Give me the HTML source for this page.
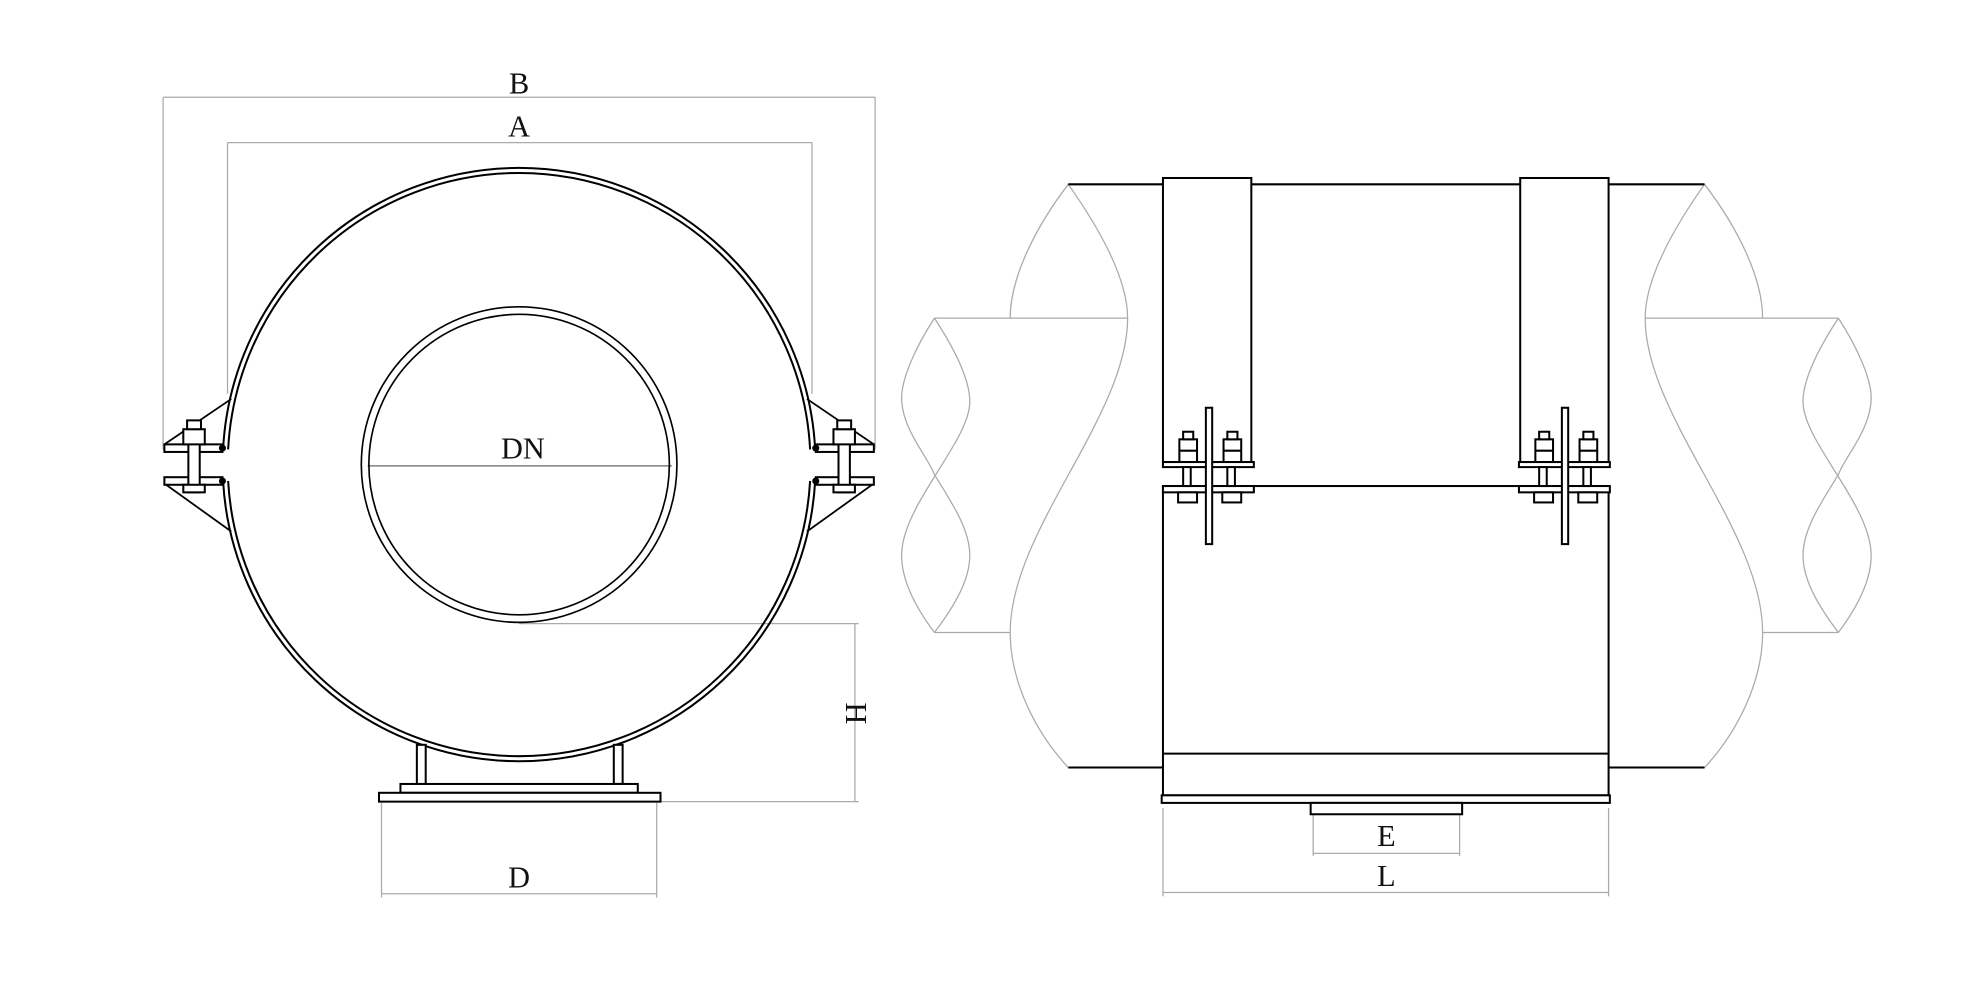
<!DOCTYPE html>
<html><head><meta charset="utf-8"><style>html,body{margin:0;padding:0;background:#fff}svg{display:block}text{font-family:"Liberation Serif",serif;font-size:24px;fill:#111}</style></head>
<body>
<svg width="1980" height="991" viewBox="0 0 1568 785" xmlns="http://www.w3.org/2000/svg">
<defs>
<g id="lflange" fill="#fff" stroke="#000" stroke-width="1.6">
  <path d="M183,316 L130,352 M130,383 L183,421" fill="none" stroke-width="1.4"/>
  <rect x="130" y="352" width="46" height="6"/>
  <rect x="130" y="378" width="46" height="6"/>
  <rect x="149" y="340" width="9" height="50"/>
  <rect x="145" y="340" width="17" height="12"/>
  <rect x="148" y="333" width="11" height="7"/>
  <rect x="145" y="384" width="17" height="6"/>
  <circle cx="176" cy="355" r="2" fill="#000"/>
  <circle cx="176" cy="381" r="2" fill="#000"/>
</g>
<g id="bolts" fill="#fff" stroke="#000" stroke-width="1.6">
  <rect x="934" y="348" width="14" height="18"/><line x1="934" y1="357" x2="948" y2="357"/>
  <rect x="937" y="342" width="8" height="6"/>
  <rect x="969" y="348" width="14" height="18"/><line x1="969" y1="357" x2="983" y2="357"/>
  <rect x="972" y="342" width="8" height="6"/>
  <rect x="921" y="366" width="72" height="4"/>
  <rect x="921" y="385" width="72" height="5"/>
  <rect x="937" y="370" width="6" height="15"/><rect x="972" y="370" width="6" height="15"/>
  <rect x="933" y="390" width="15" height="8"/><rect x="968" y="390" width="15" height="8"/>
  <rect x="955" y="323" width="5" height="108"/>
</g>
<g id="pipe" fill="none" stroke="#aaa" stroke-width="1">
  <path d="M846,146 C870,180 893,220 893,252 C893,330 800,420 800,501 C800,540 820,580 846,608"/>
  <path d="M846,146 C820,180 800,220 800,252"/>
  <path d="M740,252 C755,275 768,300 768,318 C768,350 714,400 714,440 C714,462 728,485 740,501"/>
  <path d="M740,252 C725,275 714,300 714,315 C714,340 735,362 740,376 C755,400 768,420 768,440 C768,462 752,485 740,501"/>
  <line x1="740" y1="252" x2="893" y2="252"/>
  <line x1="740" y1="501" x2="800" y2="501"/>
</g>
</defs>
<g fill="none" stroke="#aaa" stroke-width="1">
  <line x1="129" y1="77" x2="693" y2="77"/><line x1="180" y1="113" x2="643" y2="113"/>
  <line x1="129" y1="77" x2="129" y2="356"/><line x1="693" y1="77" x2="693" y2="356"/>
  <line x1="180" y1="113" x2="180" y2="312"/><line x1="643" y1="113" x2="643" y2="312"/>
  <line x1="291" y1="369" x2="532" y2="369" stroke="#666"/>
  <line x1="411" y1="494" x2="680" y2="494"/><line x1="520" y1="635" x2="680" y2="635"/>
  <line x1="677" y1="494" x2="677" y2="635"/>
  <line x1="302" y1="636" x2="302" y2="711"/><line x1="520" y1="636" x2="520" y2="711"/>
  <line x1="302" y1="708" x2="520" y2="708"/>
  <line x1="921" y1="640" x2="921" y2="710"/><line x1="1274" y1="640" x2="1274" y2="710"/>
  <line x1="921" y1="707" x2="1274" y2="707"/>
  <line x1="1040" y1="645" x2="1040" y2="678"/><line x1="1156" y1="645" x2="1156" y2="678"/>
  <line x1="1040" y1="676" x2="1156" y2="676"/>
</g>
<text x="411" y="74" text-anchor="middle">B</text>
<text x="411" y="108" text-anchor="middle">A</text>
<text x="414" y="363" text-anchor="middle">DN</text>
<text x="411" y="703" text-anchor="middle">D</text>
<text transform="translate(670,565) rotate(90)" text-anchor="middle">H</text>
<text x="1098" y="670" text-anchor="middle">E</text>
<text x="1098" y="702" text-anchor="middle">L</text>
<!-- left view -->
<g fill="none" stroke="#000" stroke-width="1.6">
  <path d="M176.5,356 A235,235 0 0 1 411,133 A235,235 0 0 1 645.5,356"/>
  <path d="M180.5,356 A231,231 0 0 1 411,137 A231,231 0 0 1 641.5,356"/>
  <path d="M176.5,381 A235,235 0 0 0 411,603 A235,235 0 0 0 645.5,381"/>
  <path d="M180.5,381 A231,231 0 0 0 411,599 A231,231 0 0 0 641.5,381"/>
  <circle cx="411" cy="368" r="125" stroke-width="1.3"/>
  <circle cx="411" cy="368" r="119" stroke-width="1.3"/>
</g>
<use href="#lflange"/>
<use href="#lflange" transform="translate(822,0) scale(-1,1)"/>
<g fill="#fff" stroke="#000" stroke-width="1.6">
  <rect x="330" y="590" width="7" height="31"/><rect x="486" y="590" width="7" height="31"/>
  <rect x="317" y="621" width="188" height="7"/>
  <rect x="300" y="628" width="223" height="7"/>
</g>
<!-- right view -->
<use href="#pipe"/>
<use href="#pipe" transform="translate(2196,0) scale(-1,1)"/>
<g fill="none" stroke="#000" stroke-width="1.6">
  <line x1="846" y1="146" x2="1350" y2="146"/>
  <line x1="846" y1="608" x2="921" y2="608"/><line x1="1274" y1="608" x2="1350" y2="608"/>
  <rect x="921" y="141" width="70" height="225" fill="#fff"/>
  <rect x="1204" y="141" width="70" height="225" fill="#fff"/>
  <rect x="921" y="385" width="353" height="245" fill="#fff"/>
  <line x1="921" y1="597" x2="1274" y2="597"/>
  <rect x="920" y="630" width="355" height="6" fill="#fff"/>
  <rect x="1038" y="636" width="120" height="9" fill="#fff"/>
</g>
<use href="#bolts"/>
<use href="#bolts" transform="translate(282,0)"/>
</svg>
</body></html>
